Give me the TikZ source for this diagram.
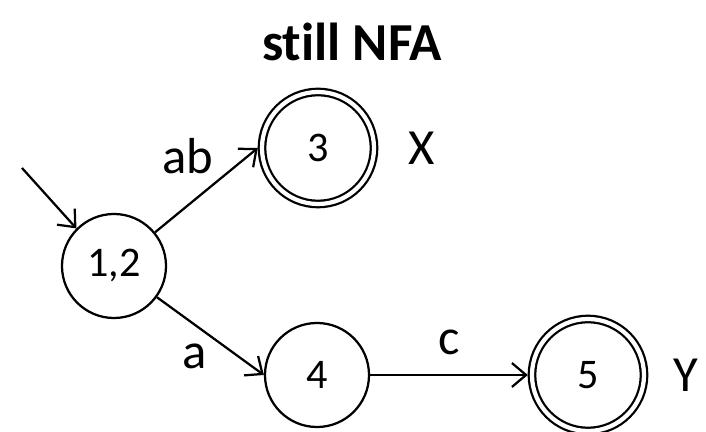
\documentclass[tikz,border=0pt]{standalone}
\usepackage{fontspec}
\setmainfont{Carlito}[Ligatures=NoCommon]
\usetikzlibrary{arrows.meta}

\begin{document}
\begin{tikzpicture}[x=0.025cm,y=-0.025cm,line width=1.6pt,
  >={Straight Barb[length=10pt,width=17pt]},
  state/.style={circle,draw,minimum size=2.6cm,inner sep=0pt,font=\fontsize{30}{34}\selectfont},
  accept/.style={state,double,double distance=3pt,minimum size=2.8cm,outer sep=3pt},
  lbl/.style={font=\fontsize{36}{40}\selectfont}]
\useasboundingbox (0,0) rectangle (706,432);
\draw (352,42) node[font=\bfseries\fontsize{38}{44}\selectfont] (title) {still NFA};
\draw (114,266) node[state] (v12) {1,2};
\draw (318,148) node[accept] (v3) {3};
\draw (317,375) node[state] (v4) {4};
\draw (588,375) node[accept] (v5) {5};
\draw (422,148) node[lbl] (lx) {X};
\draw (686,375) node[lbl] (ly) {Y};
\coordinate (init) at (22,168);
\path[->] (init) edge (v12.135);
\path[->] (v12) edge node[lbl,above left=0pt,pos=0.62] {ab} (v3.west);
\path[->] (v12) edge node[lbl,anchor=north east,pos=0.52] {a} (v4.west);
\path[->] (v4) edge node[lbl,above=10pt] {c} (v5);
\end{tikzpicture}
\end{document}
